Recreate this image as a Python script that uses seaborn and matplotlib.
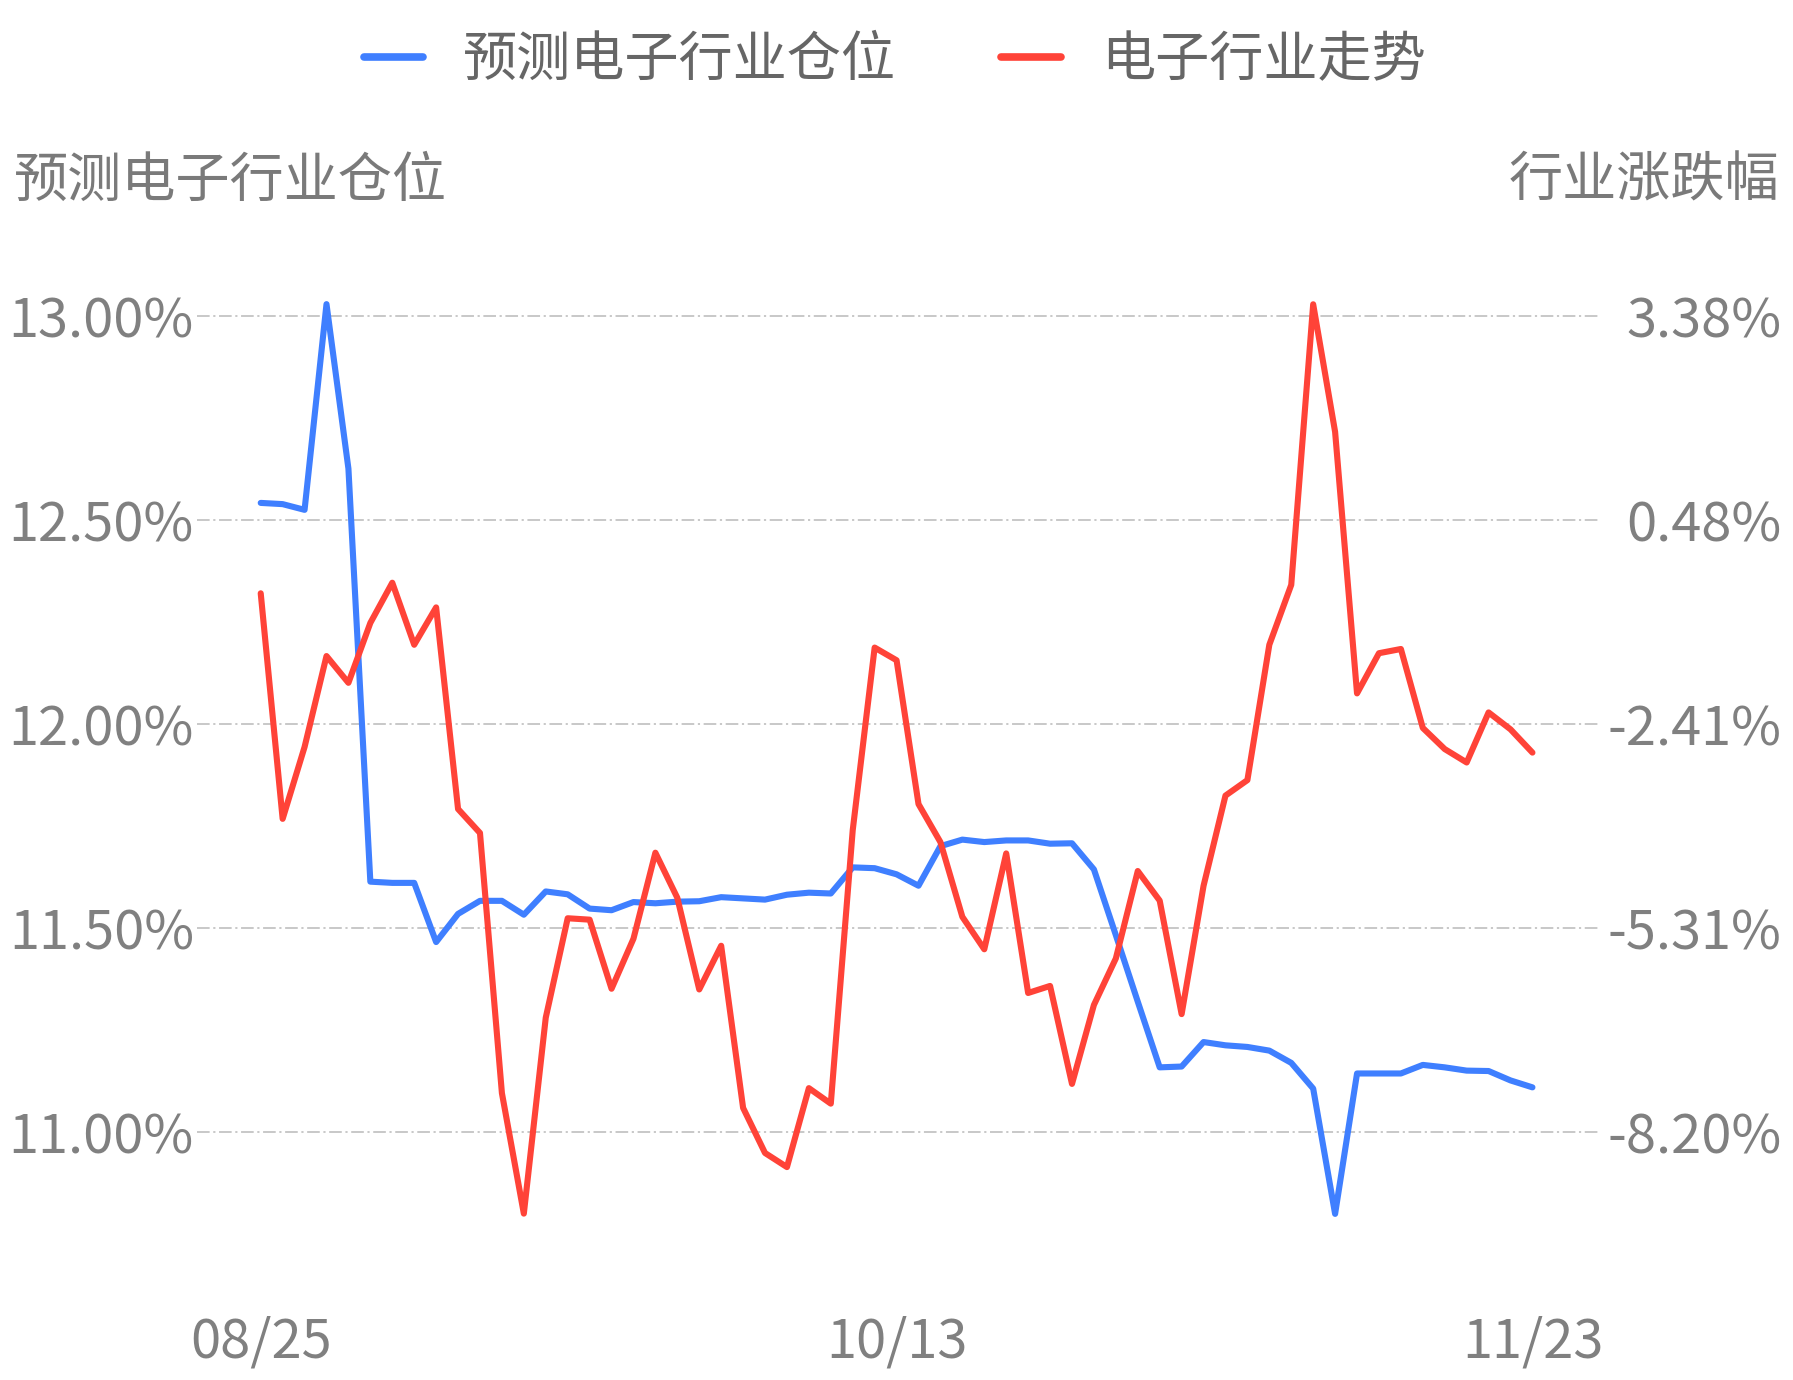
import pandas as pd
import matplotlib.pyplot as plt
import seaborn as sns

# values (59 trading days)
date_labels = ["08/25", "10/13", "11/23"]
date_label_pos = [0, 29, 58]

# predicted electronics sector position (%), left axis
position_pred = [12.541, 12.538, 12.524, 13.028, 12.625, 11.613, 11.610, 11.610, 11.465, 11.534,
                 11.566, 11.566, 11.532, 11.589, 11.582, 11.547, 11.543, 11.563, 11.560, 11.564,
                 11.565, 11.575, 11.572, 11.569, 11.581, 11.586, 11.584, 11.648, 11.646, 11.631,
                 11.603, 11.700, 11.716, 11.710, 11.714, 11.714, 11.706, 11.707, 11.643, 11.482,
                 11.319, 11.158, 11.160, 11.220, 11.212, 11.208, 11.199, 11.169, 11.106, 10.799,
                 11.143, 11.143, 11.143, 11.164, 11.158, 11.150, 11.149, 11.126, 11.109]

# electronics sector change (%), right axis
industry_chg = [-0.56, -3.76, -2.74, -1.45, -1.83, -0.98, -0.41, -1.29, -0.76, -3.62,
                -3.96, -7.65, -9.36, -6.58, -5.17, -5.19, -6.17, -5.46, -4.24, -4.88,
                -6.18, -5.56, -7.86, -8.50, -8.70, -7.58, -7.80, -3.92, -1.33, -1.51,
                -3.55, -4.09, -5.15, -5.61, -4.25, -6.23, -6.13, -7.52, -6.40, -5.74,
                -4.50, -4.92, -6.53, -4.71, -3.43, -3.21, -1.29, -0.44, 3.54, 1.73,
                -1.98, -1.41, -1.35, -2.47, -2.77, -2.96, -2.25, -2.49, -2.82]

left_ticks = [11.0, 11.5, 12.0, 12.5, 13.0]
left_labels = ["11.00%", "11.50%", "12.00%", "12.50%", "13.00%"]
right_labels = ["-8.20%", "-5.31%", "-2.41%", "0.48%", "3.38%"]

BLUE = "#3f7fff"
RED = "#ff4338"

sns.set_theme(style="white")
plt.rcParams['font.family'] = ['Noto Sans CJK SC', 'DejaVu Sans']


def to_right(v):
    # right axis is a linear rescale of the left one
    return 3.38 + (v - 13.0) * 5.79


df = pd.DataFrame({"idx": range(len(position_pred)),
                   "pos": position_pred,
                   "chg": industry_chg})

fig = plt.figure(figsize=(17.93, 13.80), dpi=100)
ax = fig.add_axes([0.1097, 0.0911, 0.7813, 0.7098])
ax2 = ax.twinx()

sns.lineplot(data=df, x="idx", y="pos", ax=ax, color=BLUE, lw=4.4,
             label="预测电子行业仓位", legend=False)
sns.lineplot(data=df, x="idx", y="chg", ax=ax2, color=RED, lw=4.4,
             label="电子行业走势", legend=False)

ax.set_xlim(-2.92, 60.97)
ax.set_ylim(10.7, 13.1)
ax2.set_ylim(to_right(10.7), to_right(13.1))

for a in (ax, ax2):
    for s in a.spines.values():
        s.set_visible(False)
    a.set_xlabel("")
    a.set_ylabel("")

ax.grid(False)
ax2.grid(False)
ax.yaxis.grid(True, color="#c4c4c4", lw=1.3, linestyle=(0, (7.0, 2.0, 1.2, 2.0)))

tick_color = "#808080"
fs = 39
ax.set_yticks(left_ticks, left_labels)
ax2.set_yticks([to_right(v) for v in left_ticks], right_labels)
ax.set_xticks(date_label_pos, date_labels)

ax.tick_params(axis="y", length=0, pad=2, labelsize=fs, labelcolor=tick_color)
ax.tick_params(axis="x", length=0, pad=43, labelsize=fs, labelcolor=tick_color)
ax2.tick_params(axis="y", length=0, pad=132.5, labelsize=fs, labelcolor=tick_color)
for t in ax2.get_yticklabels():
    t.set_horizontalalignment("right")

# axis titles
fig.text(0.0077, 0.8685, "预测电子行业仓位", fontsize=fs, color="#7a7a7a",
         ha="left", va="center")
fig.text(0.9923, 0.8685, "行业涨跌幅", fontsize=fs, color="#7a7a7a",
         ha="right", va="center")

handles = ax.get_lines()[:1] + ax2.get_lines()[:1]
leg = fig.legend(handles=handles, labels=["预测电子行业仓位", "电子行业走势"],
                 loc="center", bbox_to_anchor=(0.499, 0.956), ncol=2, frameon=False,
                 fontsize=fs, handlelength=1.1, handletextpad=0.74, columnspacing=1.94)
for t in leg.get_texts():
    t.set_color("#666666")
for h in leg.legend_handles:
    h.set_linewidth(5.5)
    h.set_solid_capstyle("round")

fig.savefig("out.png", dpi=100)
